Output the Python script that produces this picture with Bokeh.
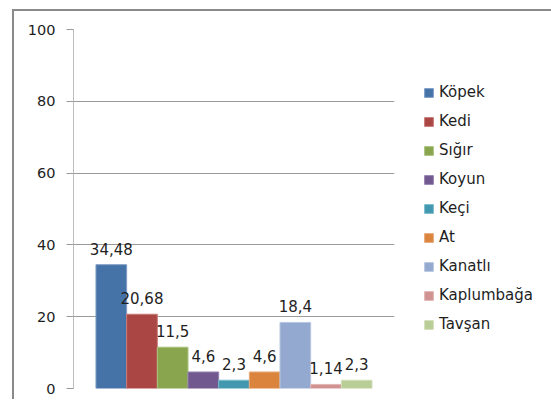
from bokeh.plotting import figure
from bokeh.models import Range1d, ColumnDataSource, Legend, LegendItem, FixedTicker
from bokeh.embed import file_html
from bokeh.resources import INLINE
from bokeh.core.properties import value

names = ["Köpek", "Kedi", "Sığır", "Koyun", "Keçi", "At", "Kanatlı", "Kaplumbağa", "Tavşan"]
values = [34.48, 20.68, 11.5, 4.6, 2.3, 4.6, 18.4, 1.14, 2.3]
colors = ["#4572A7", "#AA4643", "#89A54E", "#71588F", "#4198AF", "#DB843D", "#93A9CF", "#D19392", "#B9CD96"]
edges = ["#7E9DC6", "#C97A78", "#ABC27E", "#9683B0", "#7ABBCB", "#E8A878", "#B7C7E2", "#E2B6B5", "#D3E0BC"]
y_ticks = [0, 20, 40, 60, 80, 100]

FONT = "DejaVu Sans"
TXT = "#1e1e1e"

idx = list(range(len(names)))
labels = [f"{v:g}".replace(".", ",") for v in values]
src = ColumnDataSource(dict(x=idx, top=values, name=names, color=colors, edge=edges, label=labels))

pad = (len(names) / 0.86 - len(names)) / 2
p = figure(frame_width=321, frame_height=359, output_backend="svg", toolbar_location=None,
           x_range=Range1d(-0.5 - pad, len(names) - 0.5 + pad), y_range=Range1d(0, 100),
           min_border_left=59, min_border_top=18, min_border_bottom=11, min_border_right=150,
           margin=(9, 0, 0, 12))
p.styles = {"border-left": "2px solid #8a8a8a", "border-top": "2px solid #8a8a8a"}
p.outline_line_color = None
p.background_fill_color = "white"
p.border_fill_color = "white"

r = p.vbar(x="x", top="top", width=1.0, bottom=0, source=src,
           fill_color="color", line_color="edge", line_width=1)

p.text(x="x", y="top", text="label", source=src, text_align="center",
       text_baseline="bottom", y_offset=-10, text_font=value(FONT),
       text_font_size="15px", text_color=TXT)

p.xaxis.visible = False
p.xgrid.visible = False
p.ygrid.grid_line_color = "#9a9a9a"
p.ygrid.grid_line_width = 1

ya = p.yaxis[0]
ya.ticker = FixedTicker(ticks=y_ticks)
ya.minor_tick_line_color = None
ya.major_tick_in = 0
ya.major_tick_out = 7
ya.major_tick_line_color = "#9a9a9a"
ya.axis_line_color = "#bdbdbd"
ya.major_label_text_font = FONT
ya.major_label_text_font_size = "14.5px"
ya.major_label_text_color = TXT
ya.major_label_standoff = 11

items = [LegendItem(label=n, renderers=[r], index=i) for i, n in enumerate(names)]
legend = Legend(items=items, location=(29, 54), orientation="vertical",
                glyph_width=11, glyph_height=11, label_height=20, spacing=9,
                label_standoff=5, padding=0, margin=0,
                label_text_font=FONT, label_text_font_size="15px", label_text_color=TXT,
                border_line_color=None, background_fill_alpha=0)
p.add_layout(legend, "right")

open("out.html", "w").write(file_html(p, INLINE))
